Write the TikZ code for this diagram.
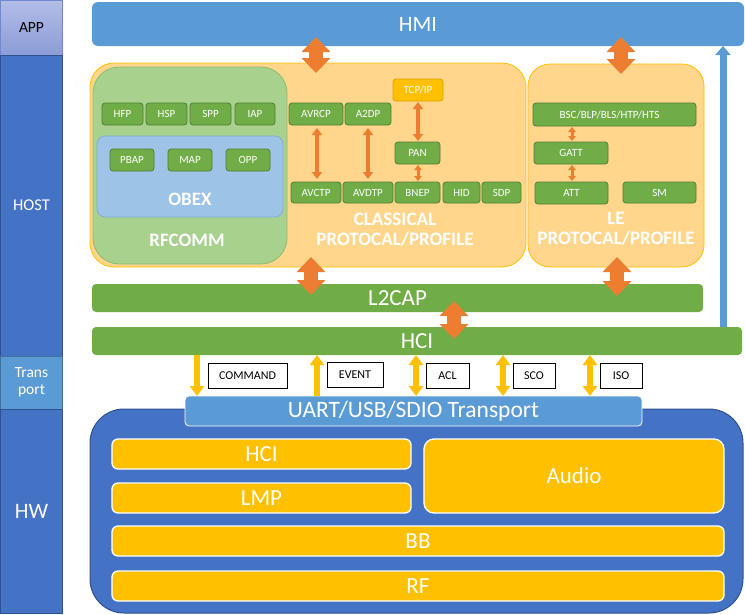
\documentclass[tikz,border=0pt]{standalone}
\usepackage{fontspec}
\setmainfont{Carlito}
\usetikzlibrary{arrows.meta}
\definecolor{hmiblue}{HTML}{5B9BD5}
\definecolor{hostblue}{HTML}{4472C4}
\definecolor{hostedge}{HTML}{2F528F}
\definecolor{tredge}{HTML}{41719C}
\definecolor{appTop}{HTML}{B2BCE6}
\definecolor{appBot}{HTML}{8B9CD8}
\definecolor{appedge}{HTML}{7088CF}
\definecolor{profill}{HTML}{FFD68C}
\definecolor{proedge}{HTML}{FFC000}
\definecolor{rffill}{HTML}{A9D18E}
\definecolor{rfedge}{HTML}{8DBB6C}
\definecolor{obfill}{HTML}{9DC3E6}
\definecolor{obedge}{HTML}{7FAEDC}
\definecolor{gfill}{HTML}{70AD47}
\definecolor{gedge}{HTML}{507E32}
\definecolor{yel}{HTML}{FFC000}
\definecolor{yeledge}{HTML}{D9A300}
\definecolor{arrorange}{HTML}{ED7D31}
\definecolor{faintg}{HTML}{9ACB7A}
\newcommand\fsz[1]{\fontsize{#1}{#1}\selectfont}
\newcommand\rbox[7][]{\node[#1, minimum width={(#5)-(#3)}, minimum height={(#6)-(#4)}] (#2) at ({((#3)+(#5))/2},{((#4)+(#6))/2}) {#7};}
\tikzset{
  base/.style={inner sep=0pt, outer sep=0pt, align=center},
  leftcol/.style={base, draw=hostedge, line width=0.8pt, fill=hostblue, text=white},
  probox/.style={base, draw=proedge, line width=0.8pt, fill=profill, rounded corners=24pt},
  gsmall/.style={base, draw=gedge, line width=0.8pt, fill=gfill, rounded corners=3pt, text=white, font=\fsz{11}},
  bar/.style={base, fill=gfill, rounded corners=4pt, text=white, font=\fsz{23}},
  hwbox/.style={base, draw=white, line width=1.3pt, fill=yel, rounded corners=6pt, text=white, font=\fsz{23}},
  tlabel/.style={base, draw=black, line width=0.8pt, fill=white, text=black, font=\fsz{12}},
  bigtip/.tip={Triangle[width=28pt,length=15pt]},
  midtip/.tip={Triangle[width=10pt,length=7pt]},
  tinytip/.tip={Triangle[width=7.5pt,length=5pt]},
  ytip/.tip={Triangle[width=14pt,length=10pt]},
  bigarr/.style={draw=arrorange, line width=14pt, {bigtip}-{bigtip}},
  midarr/.style={draw=arrorange, line width=4pt, {midtip}-{midtip}},
  tinyarr/.style={draw=arrorange, line width=3pt, {tinytip}-{tinytip}},
  yarr/.style={draw=yel, line width=6pt},
  titletxt/.style={base, text=white, font=\bfseries\fsz{19}},
}
\begin{document}
\begin{tikzpicture}[x=1pt,y=-1pt]
\useasboundingbox (0,0) rectangle (745,614);
% left column
\rbox[base, draw=appedge, line width=0.8pt, top color=appTop, bottom color=appBot, text=black, font=\fsz{15.5}]{app}{0.5}{0.5}{62.5}{55}{APP}
\rbox[leftcol, font=\fsz{16.5}]{host}{0.5}{55}{62.5}{356}{HOST}
\rbox[leftcol, fill=hmiblue, draw=tredge, font=\fsz{15.5}, align=center]{trans}{0.5}{356}{62.5}{409}{Trans\\[2pt]port}
\rbox[leftcol, font=\fsz{22}]{hw}{0.5}{409}{62.5}{613.5}{HW}
% HMI
\rbox[base, fill=hmiblue, rounded corners=6pt, text=white, font=\fsz{22}]{hmi}{92}{2}{744}{46}{HMI}
% classical box
\rbox[probox]{classical}{90}{63}{526}{267}{}
\rbox[base, draw=rfedge, line width=0.8pt, fill=rffill, rounded corners=26pt]{rfcomm}{93}{67}{287}{264}{}
\rbox[base, draw=obedge, line width=0.8pt, fill=obfill, rounded corners=8pt]{obex}{97}{136}{283}{217}{}
\node[titletxt] (obextxt) at (190,199) {OBEX};
\node[titletxt] (rfcommtxt) at (187,240) {RFCOMM};
\rbox[gsmall]{hfp}{102}{103}{143}{125}{HFP}
\rbox[gsmall]{hsp}{146}{103}{187}{125}{HSP}
\rbox[gsmall]{spp}{190}{103}{231}{125}{SPP}
\rbox[gsmall]{iap}{235}{103}{275}{125}{IAP}
\rbox[gsmall]{pbap}{110}{149}{154}{171}{PBAP}
\rbox[gsmall]{map}{168}{149}{212}{171}{MAP}
\rbox[gsmall]{opp}{226}{149}{270}{171}{OPP}
\rbox[gsmall, fill=yel, draw=yeledge]{tcpip}{393}{79}{443}{101}{TCP/IP}
\rbox[gsmall]{avrcp}{289}{103}{343}{125}{AVRCP}
\rbox[gsmall]{a2dp}{345}{103}{391}{125}{A2DP}
\rbox[gsmall]{pan}{395}{142}{440}{164}{PAN}
\rbox[gsmall]{avctp}{291}{182}{341}{203}{AVCTP}
\rbox[gsmall]{avdtp}{343}{182}{393}{203}{AVDTP}
\rbox[gsmall]{bnep}{395}{182}{440}{203}{BNEP}
\rbox[gsmall]{hid}{443}{182}{480}{203}{HID}
\rbox[gsmall]{sdp}{482}{182}{521}{203}{SDP}
\node[titletxt] (classtxt) at (395,229.5) {CLASSICAL\\[1pt]PROTOCAL/PROFILE};
% LE box
\rbox[probox, rounded corners=22pt]{le}{528}{64}{704}{267}{}
\rbox[gsmall]{bsc}{533}{103}{696}{126}{BSC/BLP/BLS/HTP/HTS{\color{faintg}\fsz{7}$\cdots$}}
\rbox[gsmall]{gatt}{534}{142}{608}{164}{GATT}
\rbox[gsmall]{att}{535}{182}{608}{204}{ATT}
\rbox[gsmall]{sm}{623}{182}{696}{203}{SM}
\node[titletxt] (letxt) at (616,229) {LE\\[1pt]PROTOCAL/PROFILE};
% bars
\rbox[bar]{l2cap}{92}{284}{703}{312}{L2CAP}
\rbox[bar]{hci}{92}{327}{742}{355}{HCI}
% HW
\rbox[base, draw=hostedge, line width=1pt, fill=hostblue, rounded corners=34pt]{hwbig}{90}{409}{743}{613}{}
\rbox[base, draw=white, line width=0.8pt, fill=hmiblue, rounded corners=4pt, text=white, font=\fsz{23.5}]{uart}{185}{396}{642}{426}{UART/USB/SDIO Transport}
\rbox[hwbox]{hwhci}{112}{439}{411}{469}{HCI}
\rbox[hwbox]{lmp}{112}{483}{411}{513}{LMP}
\rbox[hwbox, rounded corners=10pt]{audio}{424}{439}{724}{513}{Audio}
\rbox[hwbox]{bb}{112}{526}{724}{556}{BB}
\rbox[hwbox]{rf}{112}{571}{724}{601}{RF}
% transport labels
\rbox[tlabel]{cmd}{208}{363}{287}{388}{COMMAND}
\rbox[tlabel]{evt}{327}{362}{383}{387}{EVENT}
\rbox[tlabel]{acl}{426}{363}{469}{388}{ACL}
\rbox[tlabel]{sco}{513}{363}{555}{388}{SCO}
\rbox[tlabel]{iso}{600}{363}{642}{388}{ISO}
% coordinates for arrow columns
\coordinate (xa) at (316,0);
\coordinate (xb) at (621,0);
\coordinate (xc) at (311,0);
\coordinate (xd) at (617,0);
\coordinate (xe) at (454,0);
\coordinate (xf) at (317,0);
\coordinate (xg) at (368,0);
\coordinate (xh) at (418,0);
\coordinate (xi) at (572,0);
\coordinate (xj) at (723,0);
\coordinate (y1) at (197,0);
\coordinate (y2) at (317,0);
\coordinate (y3) at (416,0);
\coordinate (y4) at (503,0);
\coordinate (y5) at (590,0);
% big arrows
\draw[bigarr, shorten <=-9pt, shorten >=-10pt] (xa |- hmi.south) -- (xa |- classical.north);
\draw[bigarr, shorten <=-9pt, shorten >=-10pt] (xb |- hmi.south) -- (xb |- le.north);
\draw[bigarr, shorten <=-10pt, shorten >=-11pt] (xc |- classical.south) -- (xc |- l2cap.north);
\draw[bigarr, shorten <=-10pt, shorten >=-12pt] (xd |- le.south) -- (xd |- l2cap.north);
\draw[bigarr, shorten <=-11pt, shorten >=-12pt] (xe |- l2cap.south) -- (xe |- hci.north);
% small arrows
\draw[midarr, shorten <=3pt, shorten >=3pt] (xf |- avrcp.south) -- (xf |- avctp.north);
\draw[midarr, shorten <=3pt, shorten >=3pt] (xg |- a2dp.south) -- (xg |- avdtp.north);
\draw[midarr, shorten <=1pt, shorten >=1pt] (xh |- tcpip.south) -- (xh |- pan.north);
\draw[tinyarr, shorten <=1pt, shorten >=1pt] (xh |- pan.south) -- (xh |- bnep.north);
\draw[tinyarr, shorten <=1pt, shorten >=1pt] (xi |- bsc.south) -- (xi |- gatt.north);
\draw[tinyarr, shorten <=1pt, shorten >=1pt] (xi |- gatt.south) -- (xi |- att.north);
% blue up arrow
\draw[draw=hmiblue, line width=7pt, -{Triangle[width=15pt,length=9pt]}] (xj |- hci.north) -- (xj |- hmi.south);
% yellow transport arrows
\draw[yarr, -{ytip}] (y1 |- hci.south) -- (y1 |- uart.north);
\draw[yarr, -{ytip}] (y2 |- uart.north) -- (y2 |- hci.south);
\draw[yarr, {ytip}-{ytip}] (y3 |- hci.south) -- (y3 |- uart.north);
\draw[yarr, {ytip}-{ytip}] (y4 |- hci.south) -- (y4 |- uart.north);
\draw[yarr, {ytip}-{ytip}] (y5 |- hci.south) -- (y5 |- uart.north);
\end{tikzpicture}
\end{document}
